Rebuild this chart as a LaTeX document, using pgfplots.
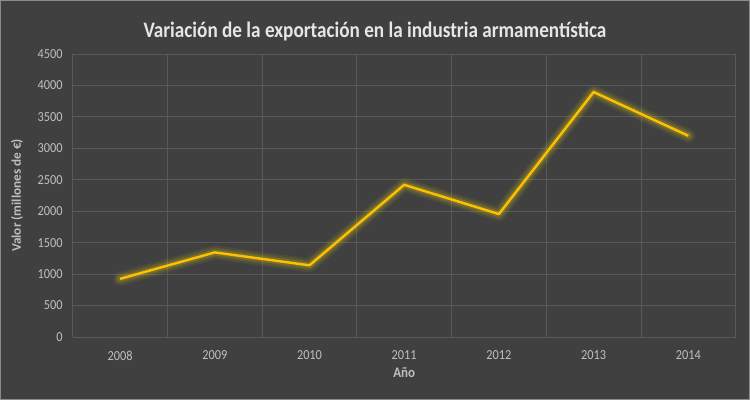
\documentclass[border=0pt]{standalone}
\usepackage{pgfplots}
\pgfplotsset{compat=1.18}
\usepackage{fontspec}
\setmainfont{Carlito}
\definecolor{bg}{HTML}{404040}
\definecolor{bordercol}{HTML}{8C8C8C}
\definecolor{gridcol}{HTML}{585858}
\definecolor{tickcol}{HTML}{BFBFBF}
\definecolor{titlecol}{HTML}{E6E6E6}
\definecolor{linecol}{HTML}{FFC000}
\definecolor{glowcol}{HTML}{DCCB10}
\begin{document}
\begin{tikzpicture}[x=1pt,y=1pt]
\fill[bg] (0,0) rectangle (750,400);
\draw[bordercol, line width=1pt] (0.5,0.5) rectangle (749.5,399.5);
\begin{axis}[
  at={(72.7pt,63pt)}, anchor=south west,
  scale only axis, width=663pt, height=283pt,
  xmin=-0.5, xmax=6.5, ymin=0, ymax=4500,
  ytick={0,500,...,4500},
  xtick={0,...,6},
  xticklabels={2008,2009,2010,2011,2012,2013,2014},
  minor xtick={-0.5,0.5,...,6.5},
  xmajorgrids=false, xminorgrids=true, ymajorgrids=true,
  major grid style={gridcol, line width=0.8pt},
  minor grid style={gridcol, line width=0.8pt},
  axis line style={draw=none},
  major tick style={draw=none}, minor tick style={draw=none},
  ticklabel style={font=\fontsize{12.3}{14}\selectfont, text=tickcol, yscale=1.12},
  yticklabel style={inner sep=0pt, anchor=east, xshift=-10pt},
  xticklabel style={inner sep=0pt, anchor=north, yshift=-12pt},
  /pgf/number format/assume math mode=true,
  /pgf/number format/set thousands separator={},
  xlabel={Año}, ylabel={Valor (millones de €)},
  xlabel style={at={(axis description cs:0.5,-0.127)}, anchor=center, font=\bfseries\fontsize{13}{15}\selectfont, text=tickcol, yscale=1.12},
  ylabel style={at={(axis description cs:-0.084,0.5)}, anchor=center, rotate=0, font=\bfseries\fontsize{13.2}{15}\selectfont, text=tickcol, xscale=1.0},
  clip=false,
]
\addplot[glowcol, opacity=0.08, line width=14pt, line join=round, line cap=round] coordinates {(0,925) (1,1345) (2,1140) (3,2420) (4,1955) (5,3895) (6,3200)};
\addplot[glowcol, opacity=0.12, line width=10pt, line join=round, line cap=round] coordinates {(0,925) (1,1345) (2,1140) (3,2420) (4,1955) (5,3895) (6,3200)};
\addplot[glowcol, opacity=0.2, line width=6pt, line join=round, line cap=round] coordinates {(0,925) (1,1345) (2,1140) (3,2420) (4,1955) (5,3895) (6,3200)};
\addplot[linecol, line width=2.4pt, line join=round] coordinates {(0,925) (1,1345) (2,1140) (3,2420) (4,1955) (5,3895) (6,3200)};
\end{axis}
\node[text=titlecol, font=\bfseries\fontsize{19.2}{22}\selectfont, yscale=1.15] at (375,369) {Variación de la exportación en la industria armamentística};
\end{tikzpicture}
\end{document}
